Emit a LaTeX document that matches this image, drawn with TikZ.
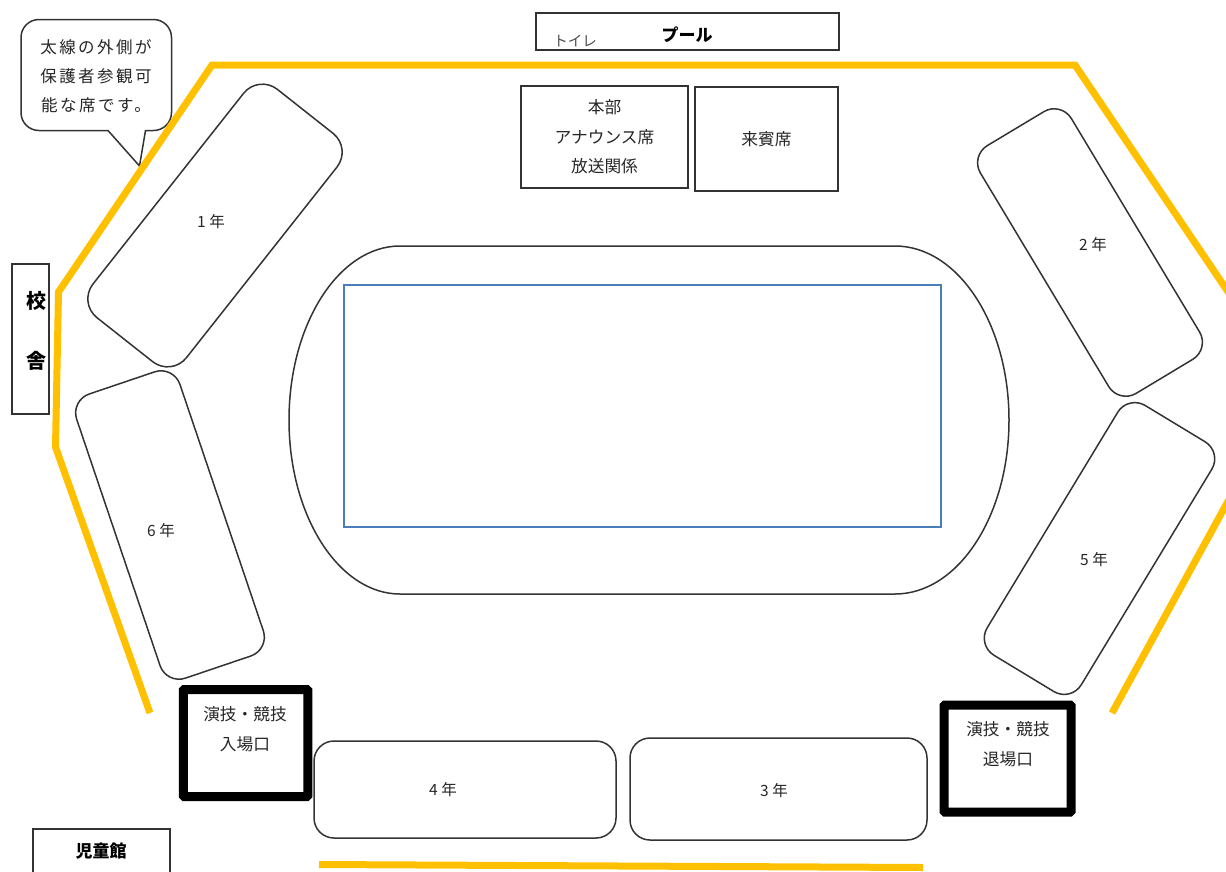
\documentclass[tikz,border=0pt]{standalone}
\usepackage{fontspec}
\usepackage{tikz}
\setmainfont{Noto Sans CJK JP}
\newfontfamily\jpwide[LetterSpace=15]{Noto Sans CJK JP}
\definecolor{fenceyel}{HTML}{FFC000}
\definecolor{fieldblu}{HTML}{4A7EBB}
\definecolor{lined}{HTML}{333333}
\usetikzlibrary{positioning}
\tikzset{
	jptext/.style={font=\fontsize{16.7}{29.5}\selectfont, text=black!85, inner sep=0pt, align=center},
	yeartext/.style={font=\fontsize{15.5}{20}\selectfont, text=black!85, inner sep=0pt},
	notetext/.style={font=\fontsize{16.5}{20}\selectfont, text=black!85, inner sep=0pt},
	seat/.style={draw=lined, line width=1.5pt, rounded corners=20pt, inner sep=0pt, minimum width=#1},
	boxed/.style={draw=lined, line width=1.6pt, inner sep=0pt, minimum width=#1},
	gate/.style={draw=black, line width=9pt, inner sep=0pt, rounded corners=1pt, minimum width=#1},
	fence/.style={draw=fenceyel, line width=7pt, line join=miter}
}

\begin{document}
\begin{tikzpicture}[x=1pt, y=-1pt]
		\useasboundingbox (0,0) rectangle (1226,871);
		
		% speech bubble, fence runs over it
		\draw[draw=lined, line width=1.5pt, fill=white] (139.5,166) -- (108,130.5) -- (39,130.5) .. controls (29,130.5) and (21,122.5) .. (21,112.5) -- (21,37.5) .. controls (21,27.5) and (29,19.5) .. (39,19.5) -- (153.5,19.5) .. controls (163.5,19.5) and (171.5,27.5) .. (171.5,37.5) -- (171.5,112.5) .. controls (171.5,122.5) and (163.5,130.5) .. (153.5,130.5) -- (145.5,130.5) -- cycle;
		\node[notetext] (noteone) at (96,47) {\jpwide 太線の外側が};
		\node[notetext, below=29pt of noteone.center, anchor=center] (notetwo) {\jpwide 保護者参観可};
		\node[notetext, below=29pt of notetwo.center, anchor=center] (notethree) {\jpwide 能な席です。};
		
		\draw[fence] (150,713) -- (55.5,447) -- (58.5,292) -- (212,65) -- (1075,65) -- (1229.5,294) -- (1229.5,498.5) -- (1112,713);
		\draw[fence] (319,864.5) -- (923,867.5);
		
		\node[boxed=303pt, minimum height=37pt] (pool) at (687.5,31.5) {};
		\node[font=\fontsize{17}{20}\selectfont\bfseries, inner sep=0pt] (poolc) at (687,34.5) {プール};
		\node[font=\fontsize{14.5}{16}\selectfont, text=black!70, inner sep=0pt] (toilet) at (575,41) {トイレ};
		
		\node[boxed=167pt, minimum height=102pt, jptext] (hq) at (604.5,137) {本部\\アナウンス席\\放送関係};
		\node[boxed=143pt, minimum height=104pt, jptext] (guest) at (766.5,139) {来賓席};
		
		\node[boxed=37pt, minimum height=150pt] (school) at (30.5,339) {};
		\node[font=\fontsize{20}{24}\selectfont\bfseries, inner sep=0pt] (schoola) at (36,301) {校};
		\node[font=\fontsize{20}{24}\selectfont\bfseries, inner sep=0pt] (schoolb) at (36,361) {舎};
		
		\node[boxed=137pt, minimum height=60pt] (kids) at (101.5,859) {};
		\node[font=\fontsize{17}{20}\selectfont\bfseries, inner sep=0pt] (kidsc) at (101,851) {児童館};
		
		% seats of the six years
		\node[seat=291pt, minimum height=119pt, rounded corners=24pt, rotate=51.7] (y1) at (215,225.5) {};
		\node[yeartext] (y1c) at (211,222) {1 年};
		\node[seat=289pt, minimum height=106pt, rotate=-59] (y2) at (1090,252.5) {};
		\node[yeartext] (y2c) at (1093,245) {2 年};
		\node[seat=297pt, minimum height=102pt] (y3) at (778.5,789) {};
		\node[yeartext] (y3c) at (774,791) {3 年};
		\node[seat=302pt, minimum height=97pt] (y4) at (465,789.5) {};
		\node[yeartext] (y4c) at (443,790) {4 年};
		\node[seat=292pt, minimum height=110pt, rotate=58.8] (y5) at (1099.5,548.5) {};
		\node[yeartext] (y5c) at (1094,560) {5 年};
		\node[seat=300pt, minimum height=109pt, rotate=-71.3] (y6) at (170,525) {};
		\node[yeartext] (y6c) at (161,531) {6 年};
		
		\node[gate=124.5pt, minimum height=107pt] (enter) at (245.5,743) {};
		\node[jptext] (entera) at (245,714) {演技・競技};
		\node[jptext, below=30pt of entera.center, anchor=center] (enterb) {入場口};
		\node[gate=127pt, minimum height=107pt] (leave) at (1007.5,758.5) {};
		\node[jptext] (leavea) at (1008,729) {演技・競技};
		\node[jptext, below=30pt of leavea.center, anchor=center] (leaveb) {退場口};
		
		% track and field
		\draw[draw=lined, line width=1.5pt] (400,246) -- (895,246) .. controls (958,246) and (1009,324) .. (1009,420) .. controls (1009,516) and (958,594) .. (895,594) -- (400,594) .. controls (339,594) and (289,516) .. (289,420) .. controls (289,324) and (339,246) .. (400,246) -- cycle;
		\draw[draw=fieldblu, line width=1.3pt] (344,285) rectangle (941,527);
		
	\end{tikzpicture}
\end{document}
